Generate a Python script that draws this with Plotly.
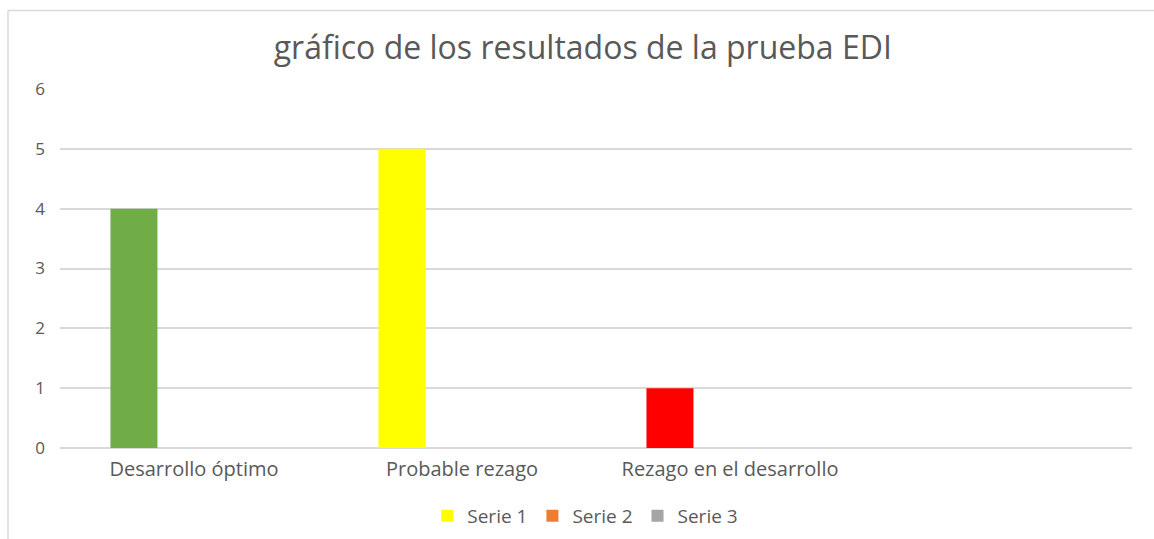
import plotly.graph_objects as go

# Chart data
categories = ["Desarrollo óptimo", "Probable rezago", "Rezago en el desarrollo"]
serie1 = [4, 5, 1]
serie2 = [None, None, None]
serie3 = [None, None, None]
serie1_colors = ["#70ad47", "#ffff00", "#ff0000"]
legend_colors = {"Serie 1": "#ffff00", "Serie 2": "#ed7d31", "Serie 3": "#a5a5a5"}
y_ticks = [0, 1, 2, 3, 4, 5, 6]

FONT = "Open Sans"
TEXT = "#595959"
GRID = "#d9d9d9"

fig = go.Figure()

# Serie 1 with a colour per category (legend entry handled by a companion trace)
fig.add_trace(go.Bar(
    x=categories, y=serie1, name="Serie 1", showlegend=False,
    marker=dict(color=serie1_colors, line=dict(width=0)),
    offsetgroup="s1",
))
fig.add_trace(go.Bar(
    x=categories, y=[None] * len(categories), name="Serie 1",
    marker=dict(color=legend_colors["Serie 1"], line=dict(width=0)),
    offsetgroup="s1",
))
fig.add_trace(go.Bar(
    x=categories, y=serie2, name="Serie 2",
    marker=dict(color=legend_colors["Serie 2"], line=dict(width=0)),
    offsetgroup="s2",
))
fig.add_trace(go.Bar(
    x=categories, y=serie3, name="Serie 3",
    marker=dict(color=legend_colors["Serie 3"], line=dict(width=0)),
    offsetgroup="s3",
))

W, H = 1154, 539
ml, mr, mt, mb = 60, 22, 89, 91
pw, ph = W - ml - mr, H - mt - mb

def px_to_paper_x(px):
    return (px - ml) / pw

def px_to_paper_y(py):
    return (H - mb - py) / ph

# Outer chart frame (left and top edges)
frame_x = px_to_paper_x(8)
frame_top = px_to_paper_y(10.5)
shapes = [
    dict(type="line", xref="paper", yref="paper", x0=frame_x, x1=frame_x,
         y0=px_to_paper_y(545), y1=frame_top, line=dict(color=GRID, width=1.5)),
    dict(type="line", xref="paper", yref="paper", x0=frame_x, x1=px_to_paper_x(1160),
         y0=frame_top, y1=frame_top, line=dict(color=GRID, width=1.5)),
]

fig.update_layout(
    width=W, height=H,
    margin=dict(l=ml, r=mr, t=mt, b=mb, pad=0, autoexpand=False),
    paper_bgcolor="white", plot_bgcolor="white",
    barmode="group", bargap=0.328, bargroupgap=0.217,
    font=dict(family=FONT, color=TEXT, size=18),
    title=dict(
        text="gráfico de los resultados de la prueba EDI",
        x=0.505, xref="container", xanchor="center",
        y=1 - 48 / H, yref="container", yanchor="middle",
        font=dict(family=FONT, size=32, color=TEXT),
    ),
    xaxis=dict(
        type="category", range=[-0.5, 3.5], automargin=False,
        showgrid=False, zeroline=False, showline=False, ticks="",
        tickfont=dict(size=20, color=TEXT), ticklabelstandoff=7,
    ),
    yaxis=dict(
        range=[0, 6], tickvals=y_ticks, automargin=False,
        showgrid=True, gridcolor=GRID, gridwidth=1.5,
        zeroline=True, zerolinecolor=GRID, zerolinewidth=1.5, showline=False, ticks="",
        tickfont=dict(size=17, color=TEXT), ticklabelstandoff=14,
    ),
    legend=dict(
        orientation="h", x=0.49, xanchor="center", xref="paper",
        y=px_to_paper_y(516), yanchor="middle",
        font=dict(size=19, color=TEXT), itemwidth=30, traceorder="normal",
    ),
    shapes=shapes,
)

fig.write_html("out.html")
